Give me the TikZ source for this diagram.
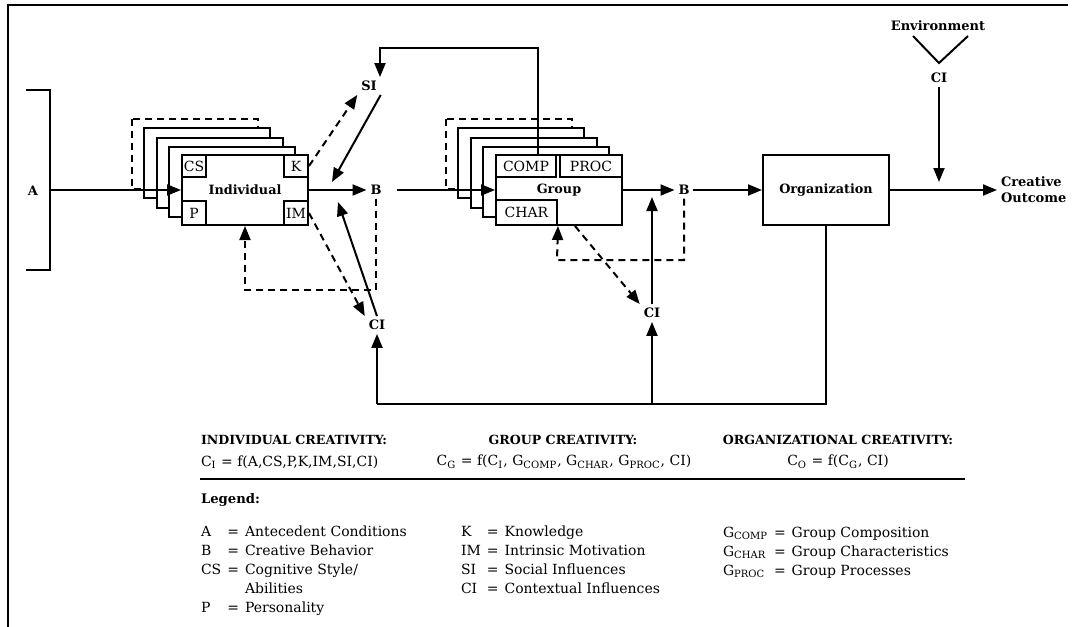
\documentclass[tikz,border=0pt]{standalone}
\usepackage{fontspec}
\setmainfont{DejaVu Serif}
\usetikzlibrary{arrows.meta}

\begin{document}
\begin{tikzpicture}[x=0.5pt, y=-0.5pt, line width=1pt,
    arr/.style={-{Triangle[length=7pt,width=5.5pt]}},
    dsh/.style={dash pattern=on 3.5pt off 2.5pt},
    unit/.style={draw, fill=white, minimum width=63pt, minimum height=35pt,
      inner sep=0pt, font=\bfseries\fontsize{6.4}{7.5}\selectfont},
    part/.style={draw, fill=white, minimum height=11pt, inner sep=0pt,
      font=\fontsize{7}{8}\selectfont},
    lbl/.style={inner sep=1.5pt, font=\bfseries\fontsize{6.5}{8}\selectfont},
    head/.style={inner sep=0pt, font=\bfseries\fontsize{6.3}{7.5}\selectfont},
    txt/.style={inner sep=0pt, font=\fontsize{7}{9.5}\selectfont}]
  \useasboundingbox (0,0) rectangle (1073,627);
  % frame
  \draw[line width=1.2pt] (8,627) -- (8,5) -- (1068,5);

  % stacked copies behind individual and group
  \foreach \cx in {245,559} {
    \draw[dsh, fill=white] (\cx-113,119) rectangle (\cx+13,189);
    \foreach \d/\e in {38/27,25/17,13/8}
      \draw[fill=white] (\cx-63-\d,155-\e) rectangle (\cx+63-\d,225-\e);
  }

  % main units
  \node[unit] (indiv) at (245,190) {Individual};
  \node[unit] (group) at (559,190) {Group};
  \node[unit] (org) at (826,190) {Organization};

  \node[part, minimum width=12pt, anchor=north west] (CS) at (indiv.north west) {CS};
  \node[part, minimum width=12pt, anchor=north east] (K) at (indiv.north east) {K};
  \node[part, minimum width=12pt, minimum height=12pt, anchor=south west] (P) at (indiv.south west) {P};
  \node[part, minimum width=12pt, minimum height=12pt, anchor=south east] (IM) at (indiv.south east) {IM};
  \node[part, minimum width=30pt, anchor=north west] (comp) at (group.north west) {COMP};
  \node[part, minimum width=31pt, anchor=north east] (proc) at (group.north east) {PROC};
  \node[part, minimum width=30.5pt, minimum height=12.5pt, anchor=south west] (char) at (group.south west) {CHAR};

  % labels
  \node[lbl] (A) at (33,191) {A};
  \node[lbl] (B1) at (376,190) {B};
  \node[lbl] (B2) at (684,190) {B};
  \node[lbl] (SI) at (369,86) {SI};
  \node[lbl] (CI1) at (377,325) {CI};
  \node[lbl] (CI2) at (652,313) {CI};
  \node[lbl] (env) at (938,26) {Environment};
  \node[lbl] (CI3) at (939,78) {CI};
  \node[lbl, anchor=west, align=left] (out) at (997,190) {Creative\\Outcome};

  \coordinate (abar) at (50,190);
  \coordinate (sitop) at (380,48);
  \coordinate (sib) at (332,182);
  \coordinate (cib) at (338,202);
  \coordinate (fbi) at (245,290);
  \coordinate (cig) at (652,197);
  \coordinate (fbg) at (557,260);
  \coordinate (cio) at (939,182);
  \coordinate (lp1) at (377,404);
  \coordinate (lp2) at (652,404);

  % antecedents bracket and environment
  \draw (26,90) -- (50,90) -- (50,270) -- (26,270);
  \draw (913,36) -- (939,63) -- (968,36);

  % connectors
  \draw[arr] (abar) -- (indiv.west);
  \draw[arr] (indiv.east) -- (B1);
  \draw[arr] ([xshift=-9.5pt]comp.north east) |- (sitop) -- (sitop |- SI.north);
  \draw[arr, dsh] (K.east) -- (SI.south west);
  \draw[arr] (SI.south east) -- (sib);
  \draw[arr, dsh] (IM.east) -- (CI1.north west);
  \draw[arr] (CI1.north) -- (cib);
  \draw[arr, dsh] (B1.south) |- (fbi) -- (indiv.south);
  \draw[arr, shorten <=6pt] (B1.east) -- (group.west);
  \draw[arr] (group.east) -- (B2);
  \draw[arr] (CI2.north) -- (cig);
  \draw[arr, dsh] ([xshift=8pt]group.south) -- (CI2.north west);
  \draw[arr, dsh] (B2.south) |- (fbg) -- (char.south east);
  \draw[arr] (B2) -- (org);
  \draw[arr] (org) -- (out);
  \draw[arr] (CI3) -- (cio);
  \draw (org.south) |- (lp1);
  \draw[arr] (lp1) -- (CI1);
  \draw[arr] (lp2) -- (CI2);

  % formulas
  \node[head, anchor=west] (hi) at (200,440) {INDIVIDUAL CREATIVITY:};
  \node[head] (hg) at (563,440) {GROUP CREATIVITY:};
  \node[head] (ho) at (838,440) {ORGANIZATIONAL CREATIVITY:};
  \node[txt, anchor=west] (fi) at (200,462) {C\textsubscript{I} = f(A,CS,P,K,IM,SI,CI)};
  \node[txt] (fg) at (564,462) {C\textsubscript{G} = f(C\textsubscript{I}, G\textsubscript{COMP}, G\textsubscript{CHAR}, G\textsubscript{PROC}, CI)};
  \node[txt] (fo) at (838,462) {C\textsubscript{O} = f(C\textsubscript{G}, CI)};
  \draw (200,479) -- (965,479);

  % legend
  \node[head, font=\bfseries\fontsize{6.6}{8}\selectfont, anchor=west] (leg) at (200,500) {Legend:};
  \node[txt, anchor=north west] (leg1) at (200,522) {%
    \begin{tabular}{@{}l@{\hspace{3pt}}l@{\hspace{3pt}}l@{}}
      A & = & Antecedent Conditions\\
      B & = & Creative Behavior\\
      CS & = & Cognitive Style/\\
         &   & Abilities\\
      P & = & Personality
    \end{tabular}};
  \node[txt, anchor=north west] (leg2) at (460,522) {%
    \begin{tabular}{@{}l@{\hspace{3pt}}l@{\hspace{3pt}}l@{}}
      K & = & Knowledge\\
      IM & = & Intrinsic Motivation\\
      SI & = & Social Influences\\
      CI & = & Contextual Influences
    \end{tabular}};
  \node[txt, anchor=north west] (leg3) at (722,523) {%
    \begin{tabular}{@{}l@{\hspace{3pt}}l@{\hspace{3pt}}l@{}}
      G\textsubscript{COMP} & = & Group Composition\\
      G\textsubscript{CHAR} & = & Group Characteristics\\
      G\textsubscript{PROC} & = & Group Processes
    \end{tabular}};
\end{tikzpicture}
\end{document}
